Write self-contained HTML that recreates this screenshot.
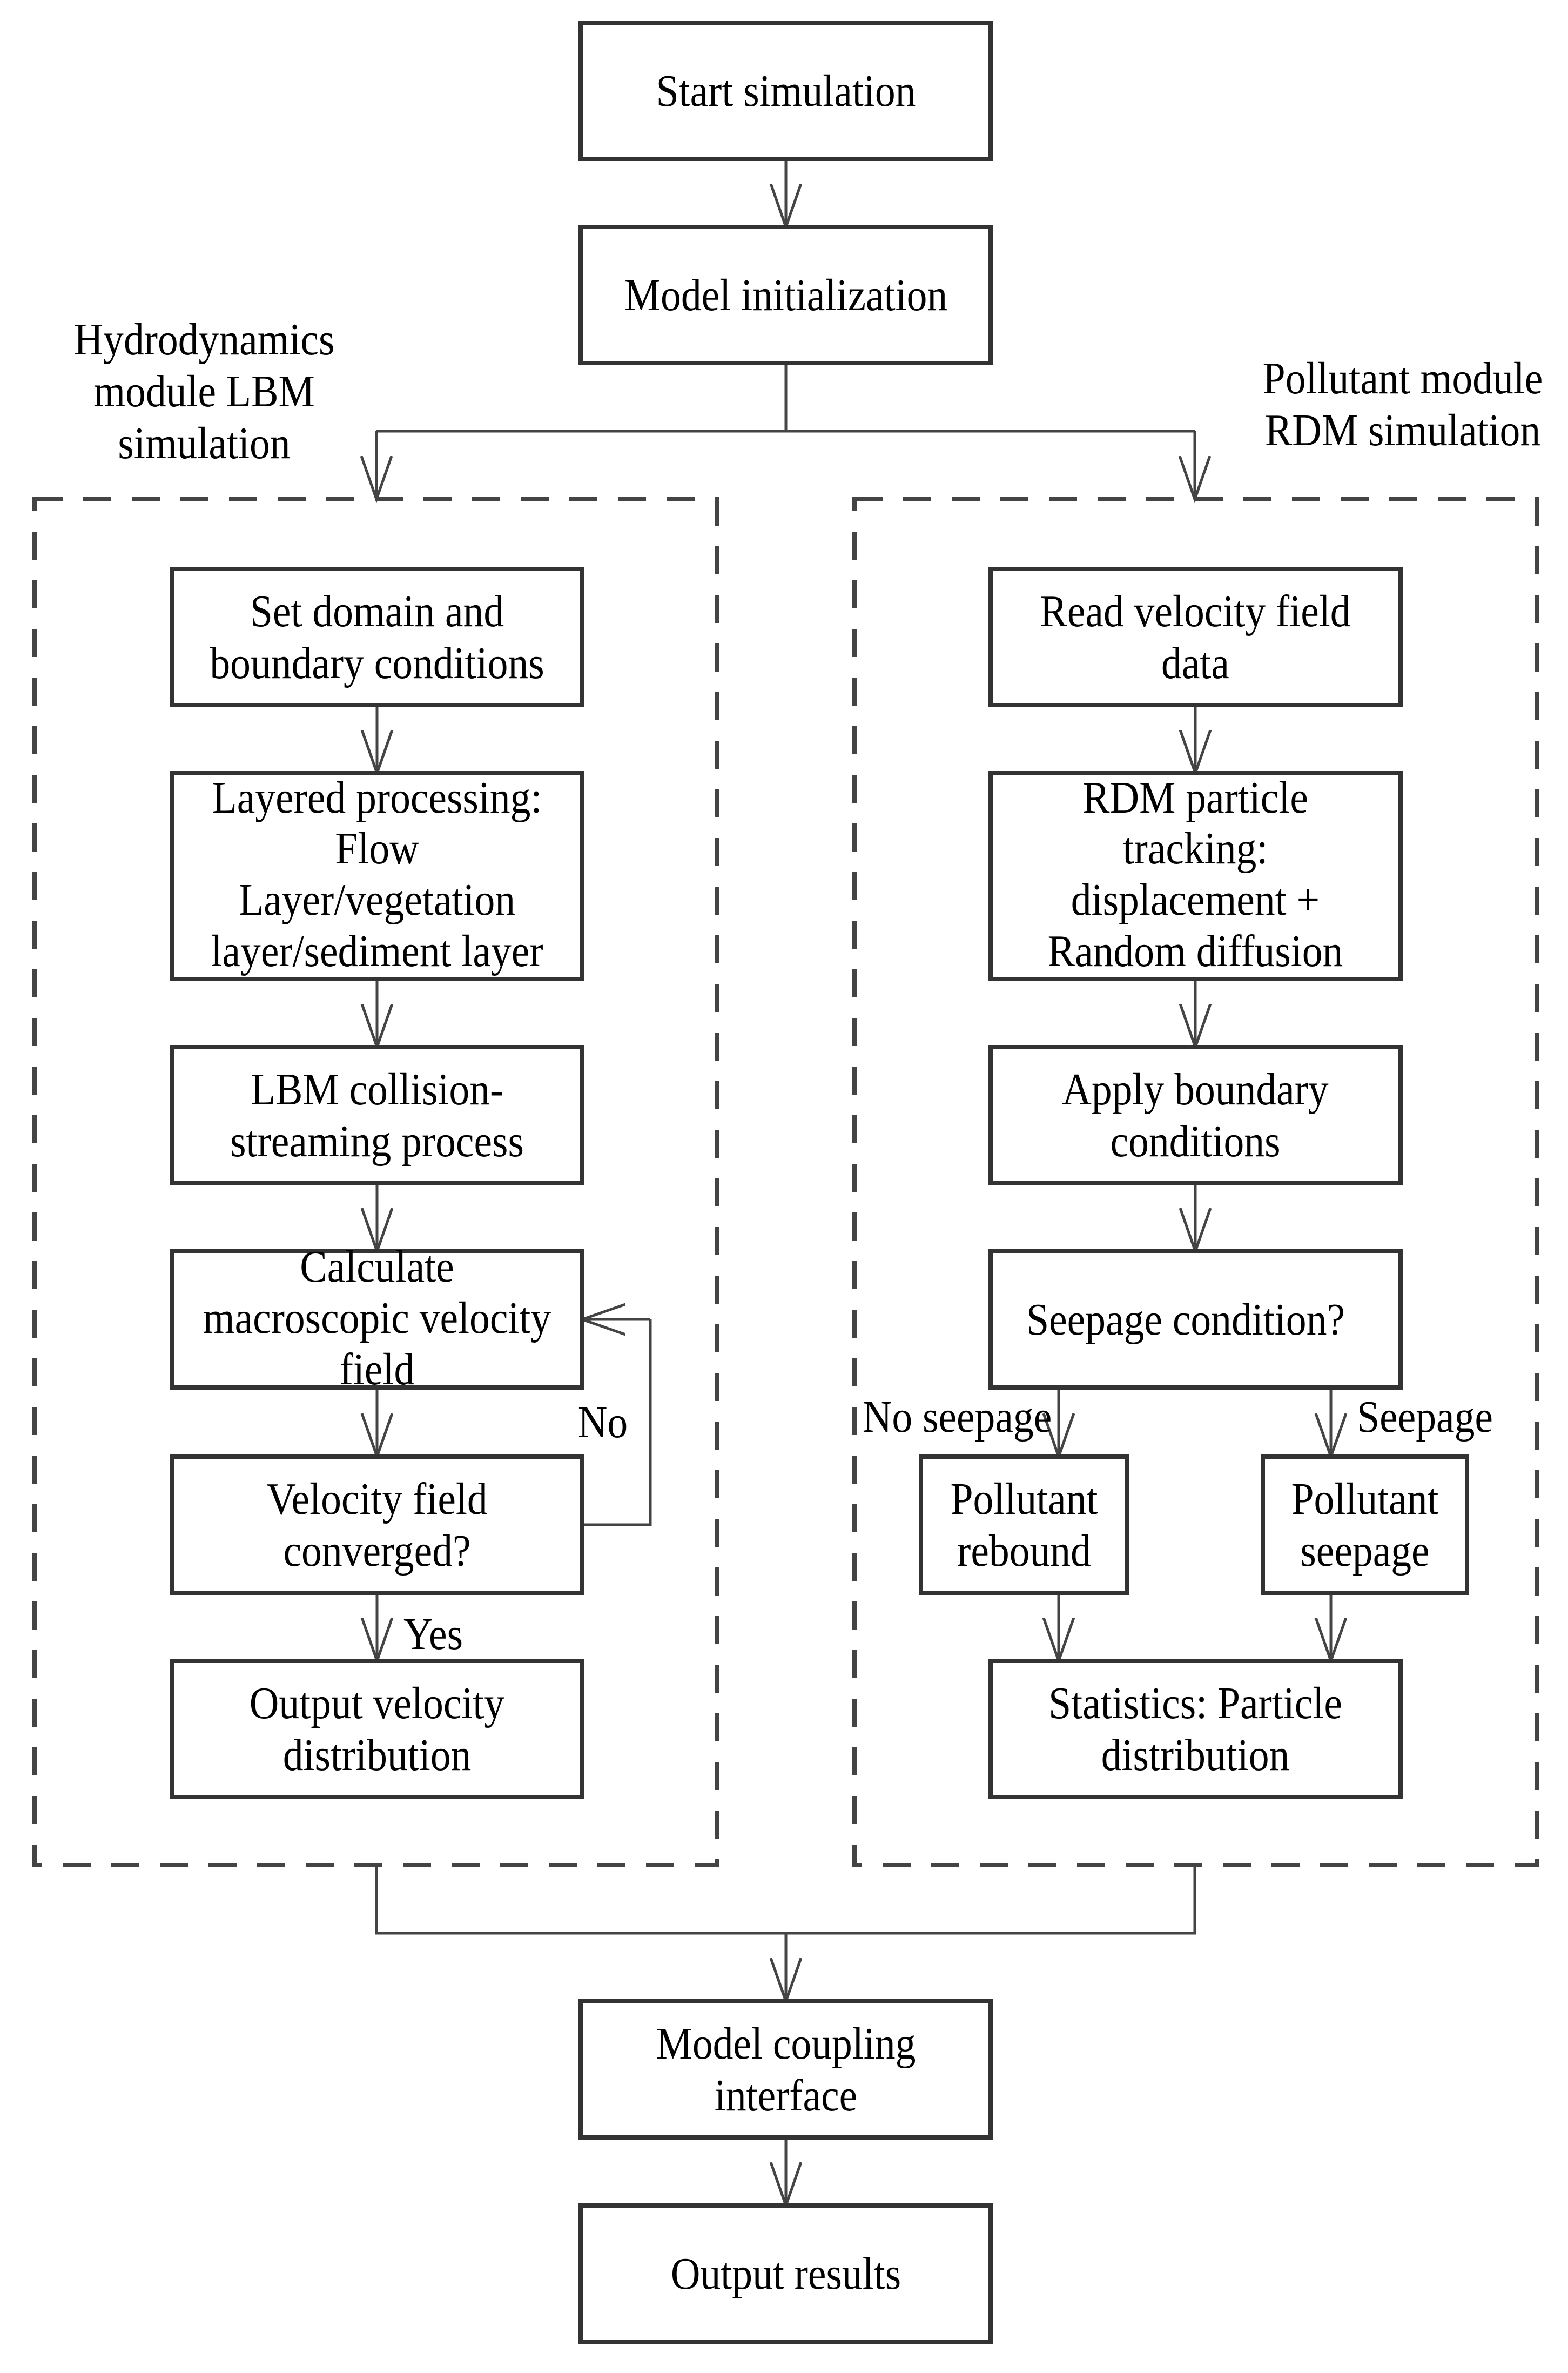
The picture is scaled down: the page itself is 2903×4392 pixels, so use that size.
<!DOCTYPE html>
<html><head><meta charset="utf-8"><style>
html,body{margin:0;padding:0;background:#fff;}
svg{display:block;}
text{font-family:"Liberation Serif",serif;font-size:84px;fill:#000;text-anchor:middle;}
</style></head><body>
<svg width="2903" height="4392" viewBox="0 0 2903 4392" xmlns="http://www.w3.org/2000/svg">
<defs>
<marker id="a" markerWidth="90" markerHeight="70" refX="80" refY="30" orient="auto" markerUnits="userSpaceOnUse">
<path d="M0,2 L80,30 L0,58" fill="none" stroke="#444" stroke-width="5"/>
</marker>
</defs>
<g fill="none" stroke="#444" stroke-width="5">
<!-- top -->
<line x1="1455" y1="294" x2="1455" y2="420" marker-end="url(#a)"/>
<polyline points="1455,672 1455,798"/>
<polyline points="697,798 2212,798"/>
<line x1="697" y1="798" x2="697" y2="924" marker-end="url(#a)"/>
<line x1="2212" y1="798" x2="2212" y2="924" marker-end="url(#a)"/>
<!-- left chain -->
<line x1="698" y1="1305" x2="698" y2="1431" marker-end="url(#a)"/>
<line x1="698" y1="1812" x2="698" y2="1938" marker-end="url(#a)"/>
<line x1="698" y1="2190" x2="698" y2="2316" marker-end="url(#a)"/>
<line x1="698" y1="2568" x2="698" y2="2696" marker-end="url(#a)"/>
<line x1="698" y1="2948" x2="698" y2="3074" marker-end="url(#a)"/>
<polyline points="1078,2822 1204,2822 1204,2442" />
<line x1="1204" y1="2442" x2="1078" y2="2442" marker-end="url(#a)"/>
<!-- right chain -->
<line x1="2213" y1="1305" x2="2213" y2="1431" marker-end="url(#a)"/>
<line x1="2213" y1="1812" x2="2213" y2="1938" marker-end="url(#a)"/>
<line x1="2213" y1="2190" x2="2213" y2="2316" marker-end="url(#a)"/>
<line x1="1960" y1="2568" x2="1960" y2="2696" marker-end="url(#a)"/>
<line x1="2464" y1="2568" x2="2464" y2="2696" marker-end="url(#a)"/>
<line x1="1960" y1="2948" x2="1960" y2="3074" marker-end="url(#a)"/>
<line x1="2464" y1="2948" x2="2464" y2="3074" marker-end="url(#a)"/>
<!-- bottom -->
<polyline points="697,3452 697,3578 2212,3578 2212,3452"/>
<line x1="1455" y1="3578" x2="1455" y2="3704" marker-end="url(#a)"/>
<line x1="1455" y1="3956" x2="1455" y2="4082" marker-end="url(#a)"/>
</g>
<!-- dashed groups -->
<g fill="none" stroke="#444" stroke-width="8" stroke-dasharray="52,38">
<rect x="64" y="924" width="1263" height="2528"/>
<rect x="1582" y="924" width="1263" height="2528"/>
</g>
<!-- boxes -->
<g fill="#fff" stroke="#333" stroke-width="8">
<rect x="1075" y="42" width="759" height="252"/>
<rect x="1075" y="420" width="759" height="252"/>
<rect x="319" y="1053" width="759" height="252"/>
<rect x="319" y="1431" width="759" height="381"/>
<rect x="319" y="1938" width="759" height="252"/>
<rect x="319" y="2316" width="759" height="252"/>
<rect x="319" y="2696" width="759" height="252"/>
<rect x="319" y="3074" width="759" height="252"/>
<rect x="1834" y="1053" width="759" height="252"/>
<rect x="1834" y="1431" width="759" height="381"/>
<rect x="1834" y="1938" width="759" height="252"/>
<rect x="1834" y="2316" width="759" height="252"/>
<rect x="1705" y="2696" width="381" height="252"/>
<rect x="2338" y="2696" width="378" height="252"/>
<rect x="1834" y="3074" width="759" height="252"/>
<rect x="1075" y="3704" width="759" height="252"/>
<rect x="1075" y="4082" width="759" height="252"/>
</g>
<g>
<text transform="translate(1455,196) scale(0.9,1)">Start simulation</text>
<text transform="translate(1455,574) scale(0.9,1)">Model initialization</text>
<text transform="translate(378,656) scale(0.9,1)">Hydrodynamics</text>
<text transform="translate(378,752) scale(0.9,1)">module LBM</text>
<text transform="translate(378,848) scale(0.9,1)">simulation</text>
<text transform="translate(2597,728) scale(0.9,1)">Pollutant module</text>
<text transform="translate(2597,824) scale(0.9,1)">RDM simulation</text>

<text transform="translate(698,1159) scale(0.9,1)">Set domain and</text>
<text transform="translate(698,1255) scale(0.9,1)">boundary conditions</text>
<text transform="translate(698,1504) scale(0.9,1)">Layered processing:</text>
<text transform="translate(698,1598) scale(0.9,1)">Flow</text>
<text transform="translate(698,1693) scale(0.9,1)">Layer/vegetation</text>
<text transform="translate(698,1788) scale(0.9,1)">layer/sediment layer</text>
<text transform="translate(698,2044) scale(0.9,1)">LBM collision-</text>
<text transform="translate(698,2140) scale(0.9,1)">streaming process</text>
<text transform="translate(698,2372) scale(0.9,1)">Calculate</text>
<text transform="translate(698,2467) scale(0.9,1)">macroscopic velocity</text>
<text transform="translate(698,2562) scale(0.9,1)">field</text>
<text transform="translate(698,2802) scale(0.9,1)">Velocity field</text>
<text transform="translate(698,2898) scale(0.9,1)">converged?</text>
<text transform="translate(698,3180) scale(0.9,1)">Output velocity</text>
<text transform="translate(698,3276) scale(0.9,1)">distribution</text>
<text transform="translate(1116,2660) scale(0.9,1)">No</text>
<text transform="translate(802,3052) scale(0.9,1)">Yes</text>

<text transform="translate(2213,1159) scale(0.9,1)">Read velocity field</text>
<text transform="translate(2213,1255) scale(0.9,1)">data</text>
<text transform="translate(2213,1504) scale(0.9,1)">RDM particle</text>
<text transform="translate(2213,1598) scale(0.9,1)">tracking:</text>
<text transform="translate(2213,1693) scale(0.9,1)">displacement +</text>
<text transform="translate(2213,1788) scale(0.9,1)">Random diffusion</text>
<text transform="translate(2213,2044) scale(0.9,1)">Apply boundary</text>
<text transform="translate(2213,2140) scale(0.9,1)">conditions</text>
<text transform="translate(2195,2470) scale(0.9,1)">Seepage condition?</text>
<text transform="translate(1772,2650) scale(0.9,1)">No seepage</text>
<text transform="translate(2638,2650) scale(0.9,1)">Seepage</text>
<text transform="translate(1896,2802) scale(0.9,1)">Pollutant</text>
<text transform="translate(1896,2898) scale(0.9,1)">rebound</text>
<text transform="translate(2527,2802) scale(0.9,1)">Pollutant</text>
<text transform="translate(2527,2898) scale(0.9,1)">seepage</text>
<text transform="translate(2213,3180) scale(0.9,1)">Statistics: Particle</text>
<text transform="translate(2213,3276) scale(0.9,1)">distribution</text>

<text transform="translate(1455,3810) scale(0.9,1)">Model coupling</text>
<text transform="translate(1455,3906) scale(0.9,1)">interface</text>
<text transform="translate(1455,4236) scale(0.9,1)">Output results</text>
</g>
</svg>
</body></html>
